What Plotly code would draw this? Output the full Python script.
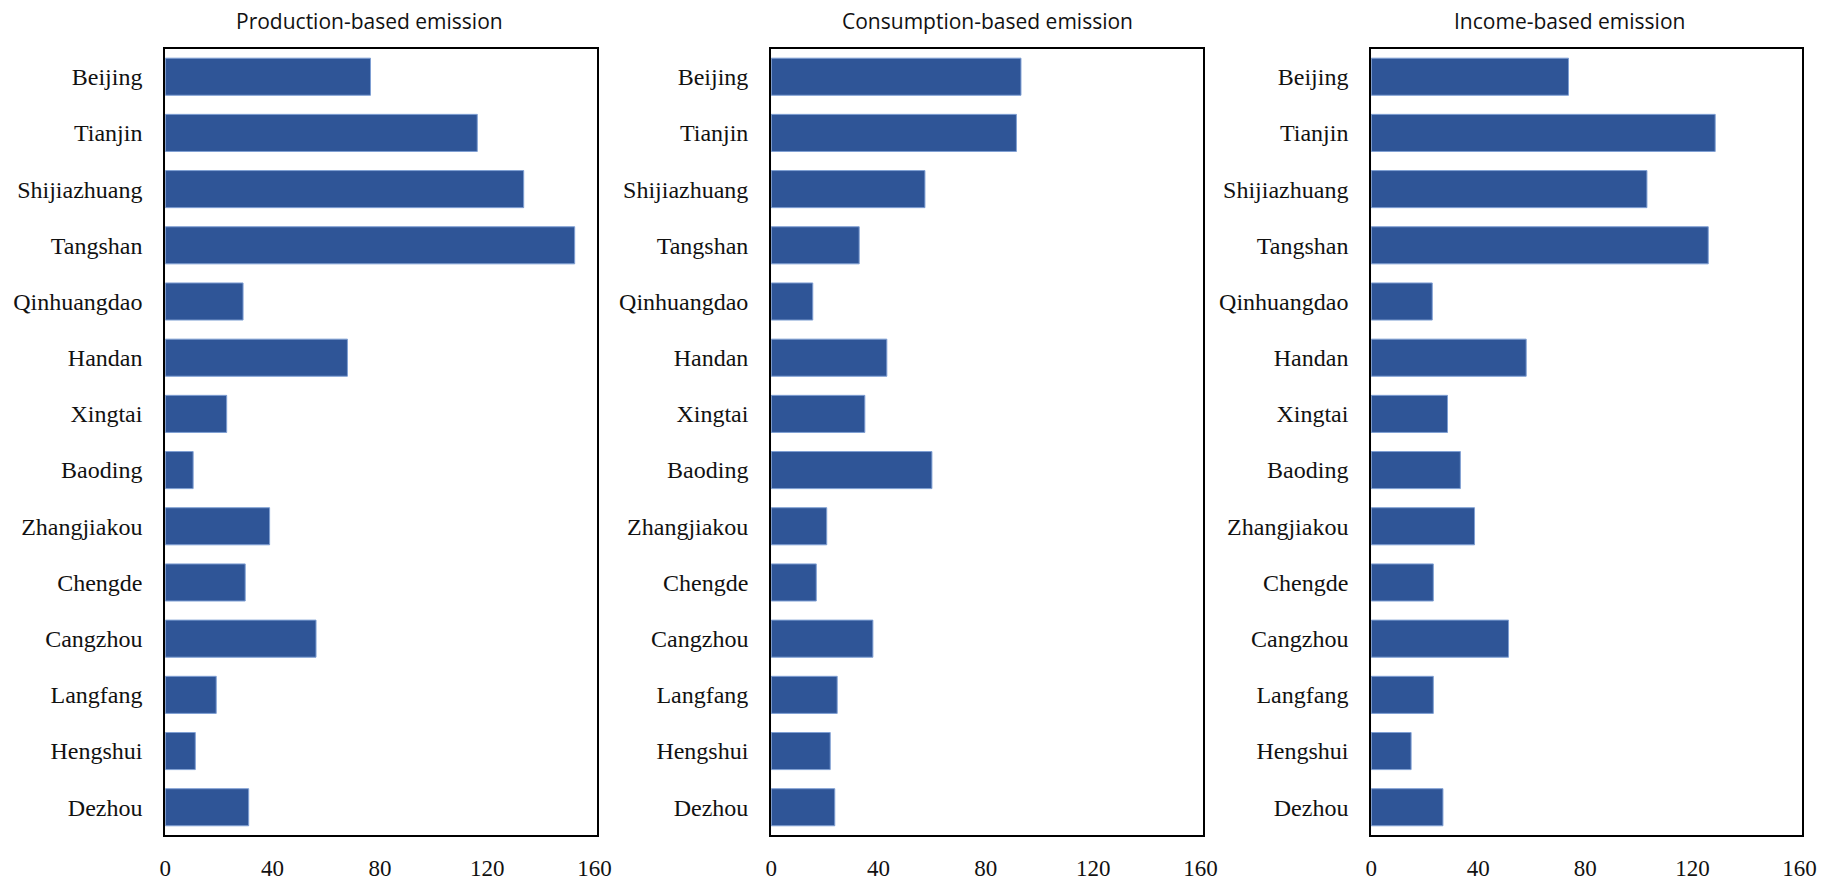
import plotly.graph_objects as go

cities = ["Beijing", "Tianjin", "Shijiazhuang", "Tangshan", "Qinhuangdao", "Handan",
          "Xingtai", "Baoding", "Zhangjiakou", "Chengde", "Cangzhou", "Langfang",
          "Hengshui", "Dezhou"]

production = [76.5, 116.3, 133.6, 152.6, 29.0, 67.9, 22.9, 10.4, 38.9, 29.8, 56.2, 19.0, 11.2, 31.1]
consumption = [93.1, 91.4, 57.3, 32.8, 15.5, 43.1, 34.9, 59.9, 20.7, 16.8, 37.9, 24.6, 22.0, 23.7]
income = [73.7, 128.5, 103.0, 125.9, 22.8, 57.9, 28.5, 33.3, 38.6, 23.2, 51.3, 23.2, 14.9, 26.8]

titles = ["Production-based emission", "Consumption-based emission", "Income-based emission"]
series = [production, consumption, income]
tick_vals = [0, 40, 80, 120, 160]

# page body has an 8px default margin; size the figure to fit the window
OFF = 8
W, H = 1842 - 2 * OFF, 889 - 2 * OFF
panels_px = [(161, 598), (774, 1211), (1381, 1817)]
title_cx = [368, 993, 1582]
top_px, bot_px = 49, 843
title_cy = 21


def fx(px):
    return (px - OFF) / W


def fy(py):
    return 1 - (py - OFF) / H


bar_color = "#2F5597"
fig = go.Figure()

for i, (vals, title) in enumerate(zip(series, titles)):
    n = "" if i == 0 else str(i + 1)
    fig.add_trace(go.Bar(
        x=vals, y=cities, orientation="h",
        marker=dict(color=bar_color, line=dict(color="#7F9FD3", width=1)),
        xaxis="x" + n, yaxis="y" + n, showlegend=False,
    ))
    x0, x1 = panels_px[i]
    fig.layout["xaxis" + n] = dict(
        domain=[fx(x0), fx(x1)], range=[0, 161], tickvals=tick_vals, anchor="y" + n,
        showgrid=False, zeroline=False, showline=True, linecolor="black",
        linewidth=2, mirror=True, ticks="", ticklabelstandoff=11,
        tickfont=dict(family="Liberation Serif", size=23, color="#111"),
        fixedrange=True,
    )
    fig.layout["yaxis" + n] = dict(
        domain=[fy(bot_px), fy(top_px)], anchor="x" + n,
        categoryorder="array", categoryarray=cities, autorange="reversed",
        showgrid=False, zeroline=False, showline=True, linecolor="black",
        linewidth=2, mirror=True, ticks="", ticklabelstandoff=16,
        tickfont=dict(family="Liberation Serif", size=24, color="#111"),
        fixedrange=True,
    )
    fig.add_annotation(
        text=title, x=fx(title_cx[i]), y=fy(title_cy),
        xref="paper", yref="paper", showarrow=False,
        xanchor="center", yanchor="middle",
        font=dict(family="Open Sans", size=21, color="#111"),
    )

fig.update_layout(
    width=W, height=H, bargap=0.34,
    margin=dict(l=0, r=0, t=0, b=0),
    plot_bgcolor="white", paper_bgcolor="white",
)

fig.write_html("out.html")
